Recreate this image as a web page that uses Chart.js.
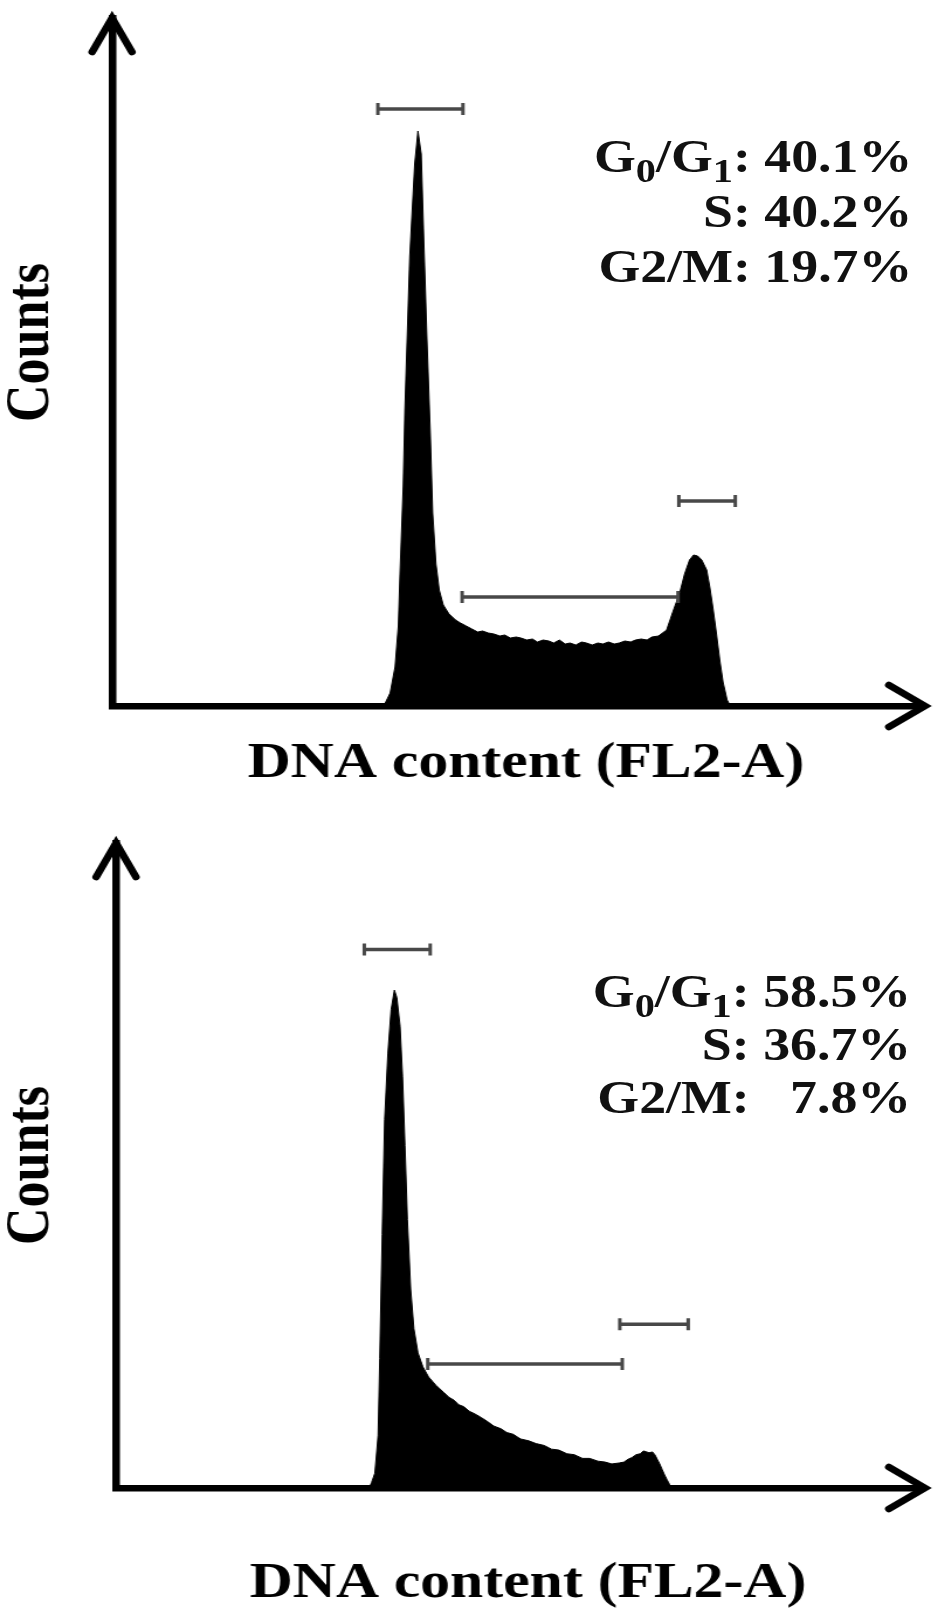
<!DOCTYPE html>
<html>
<head>
<meta charset="utf-8">
<title>Cell cycle histograms</title>
<script src="https://cdn.jsdelivr.net/npm/chart.js@4.4.1/dist/chart.umd.min.js"></script>
<style>
  html, body { margin: 0; padding: 0; background: #fff; }
  body { width: 945px; height: 1609px; overflow: hidden; position: relative; }
  /* the original figure is stretched sideways, so each panel is drawn narrow and widened */
  .panel { position: absolute; left: 0; width: 808px; transform: scaleX(1.1696); transform-origin: 0 0; }
  #topPanel { top: 0; height: 800px; }
  #bottomPanel { top: 800px; height: 809px; }
  .panel canvas { position: absolute; left: 0; top: 0; }
  .stats {
    position: absolute;
    font-family: "Liberation Serif", "Times New Roman", serif;
    font-weight: bold;
    font-size: 46px;
    line-height: 55px;
    text-align: right;
    color: #111;
    white-space: pre;
  }
  .stats sub { font-size: 0.75em; vertical-align: -0.3em; line-height: 0; }
</style>
</head>
<body>
<div class="panel" id="topPanel">
  <canvas id="topChart" width="808" height="800" style="width:808px;height:800px"></canvas>
  <div class="stats" id="topStats" style="right:28px; top:129px"></div>
</div>
<div class="panel" id="bottomPanel">
  <canvas id="bottomChart" width="808" height="809" style="width:808px;height:809px"></canvas>
  <div class="stats" id="bottomStats" style="right:29px; top:165px; line-height:53px"></div>
</div>
<script>
// FL2-A channel and event counts
const topChannels = [326, 334, 340, 346, 350, 352, 356, 358, 364, 370, 374, 378, 381, 385, 389, 392, 396, 400, 405, 412,
  420, 426, 433, 440, 447, 453, 460, 467, 474, 480, 487, 494, 500, 507, 514, 520, 527, 534, 540, 547,
  554, 560, 567, 574, 580, 587, 594, 600, 607, 614, 620, 627, 634, 640, 647, 654, 660, 668, 678, 686,
  694, 700, 706, 711, 716, 721, 727, 731, 735, 739, 743, 747, 752, 756];
const topCounts = [0, 3, 13, 39, 80, 131, 220, 296, 450, 542, 575, 552, 470, 367, 275, 193, 142, 116, 101, 92,
  86, 83, 80, 77, 74, 75, 73, 72, 70, 71, 68, 69, 68, 66, 67, 64, 66, 65, 63, 66,
  62, 63, 61, 64, 63, 61, 63, 62, 64, 62, 63, 65, 64, 66, 67, 66, 69, 70, 76, 95,
  113, 132, 146, 151, 150, 146, 136, 118, 96, 72, 46, 24, 6, 0];

// FL2-A channel and event counts
const bottomChannels = [311, 314, 318, 322, 324, 327, 330, 334, 338, 342, 345, 349, 352, 355, 358, 362, 366, 371, 377, 384,
  393, 403, 409, 415, 421, 427, 434, 441, 449, 456, 464, 473, 480, 488, 497, 507, 516, 526, 535, 544,
  554, 563, 573, 582, 592, 601, 609, 618, 624, 629, 634, 639, 644, 648, 652, 655, 659, 662, 665, 668,
  671, 674, 677, 680, 684];
const bottomCounts = [0, 6, 16, 57, 140, 274, 398, 470, 517, 538, 530, 499, 445, 370, 290, 215, 172, 146, 131, 120,
  111, 103, 98, 95, 90, 88, 83, 80, 76, 72, 67, 64, 60, 58, 53, 51, 48, 46, 42, 41,
  37, 36, 32, 32, 29, 28, 26, 27, 28, 31, 33, 36, 37, 40, 39, 38, 39, 36, 31, 26,
  20, 14, 9, 4, 0];

// gate markers (G0/G1, S, G2/M): start channel, end channel, height in counts
const topGateStarts = [325, 428, 693];
const topGateEnds = [429, 692, 762];
const topGateLevels = [597, 109, 205];
const bottomGateStarts = [305, 383, 619];
const bottomGateEnds = [386, 622, 703];
const bottomGateLevels = [582, 134, 177];

// phase percentages
const phaseLabels = ['G<sub>0</sub>/G<sub>1</sub>', 'S', 'G2/M'];
const topPhases = [40.1, 40.2, 19.7];
const bottomPhases = [58.5, 36.7, 7.8];

const serif = "'Liberation Serif', 'Times New Roman', serif";
const gateColor = '#484848';

// open arrow heads at the end of both axes
const axisArrows = {
    id: 'axisArrows',
    afterDraw(chart) {
        const { ctx, chartArea: a } = chart;
        ctx.save();
        ctx.strokeStyle = '#000';
        ctx.lineWidth = 6.5;
        ctx.lineJoin = 'miter';
        ctx.lineCap = 'round';
        ctx.beginPath();
        ctx.moveTo(a.left - 17, a.top + 34);
        ctx.lineTo(a.left, a.top);
        ctx.lineTo(a.left + 17, a.top + 34);
        ctx.moveTo(a.right - 31, a.bottom - 21);
        ctx.lineTo(a.right, a.bottom);
        ctx.lineTo(a.right - 31, a.bottom + 21);
        ctx.stroke();
        ctx.restore();
    }
};

function writeStats(id, values) {
    // one line per phase, right aligned; single digit values get padded
    const lines = phaseLabels.map((label, i) => {
        const pad = values[i] < 10 ? '   ' : ' ';
        return label + ':' + pad + values[i].toFixed(1) + '%';
    });
    document.getElementById(id).innerHTML = lines.join('\n');
}

function makeHistogram(canvasId, channels, counts, gateStarts, gateEnds, gateLevels, box) {
    const ctx = document.getElementById(canvasId).getContext('2d');

    // gate bars as short line datasets with vertical end caps
    const gateSets = gateStarts.map((start, i) => ({
        data: [{ x: start, y: gateLevels[i] }, { x: gateEnds[i], y: gateLevels[i] }],
        borderColor: gateColor,
        borderWidth: 3.5,
        pointStyle: 'line',
        pointRotation: 90,
        pointRadius: 6,
        pointBorderWidth: 3,
        pointBorderColor: gateColor,
        fill: false
    }));

    return new Chart(ctx, {
        type: 'line',
        data: {
            datasets: gateSets.concat([{
                data: channels.map((c, i) => ({ x: c, y: counts[i] })),
                borderColor: '#000',
                backgroundColor: '#000',
                borderWidth: 1,
                pointRadius: 0,
                tension: 0,
                fill: 'origin'
            }])
        },
        options: {
            responsive: false,
            animation: false,
            devicePixelRatio: 1,
            events: [],
            layout: { padding: { left: 0, right: 17.1, top: box.top, bottom: 0 } },
            plugins: { legend: { display: false }, tooltip: { enabled: false } },
            scales: {
                x: {
                    type: 'linear',
                    min: 0,
                    max: 994,
                    grid: { display: false, drawTicks: false },
                    ticks: { display: false },
                    border: { display: true, color: '#000', width: 6.5 },
                    title: {
                        display: true,
                        text: ' DNA content (FL2-A)',
                        color: '#000',
                        font: { family: serif, size: 51, weight: 'bold', lineHeight: 1 },
                        padding: { top: box.xTitleTop, bottom: box.xTitleBottom }
                    }
                },
                y: {
                    min: 0,
                    max: box.yMax,
                    grid: { display: false, drawTicks: false },
                    ticks: { display: false },
                    border: { display: true, color: '#000', width: 6.5 },
                    title: {
                        display: true,
                        text: box.yTitle,
                        color: '#000',
                        font: { family: serif, size: 52, weight: 'bold', lineHeight: 1 },
                        padding: { top: 1.4, bottom: box.yTitleBottom }
                    }
                }
            }
        },
        plugins: [axisArrows]
    });
}

makeHistogram('topChart', topChannels, topCounts, topGateStarts, topGateEnds, topGateLevels,
    { top: 18, yMax: 688, xTitleTop: 32.5, xTitleBottom: 10.5, yTitleBottom: 42.4, yTitle: '   Counts' });
makeHistogram('bottomChart', bottomChannels, bottomCounts, bottomGateStarts, bottomGateEnds, bottomGateLevels,
    { top: 43, yMax: 697, xTitleTop: 70, xTitleBottom: 0, yTitleBottom: 45.8, yTitle: 'Counts' });

writeStats('topStats', topPhases);
writeStats('bottomStats', bottomPhases);
</script>
</body>
</html>
